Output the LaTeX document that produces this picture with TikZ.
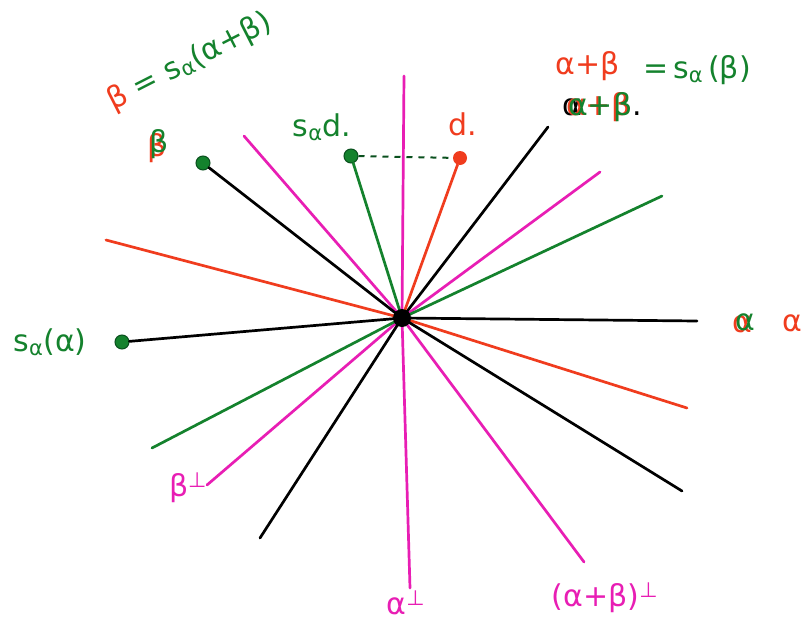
\documentclass[tikz,border=0pt]{standalone}
\usepackage{fontspec}
\setmainfont{DejaVu Sans}
\definecolor{mag}{RGB}{232,30,180}
\definecolor{rd}{RGB}{240,60,30}
\definecolor{gr}{RGB}{20,130,45}
\definecolor{dgr}{RGB}{10,80,30}
\newcommand{\sub}[1]{\textsubscript{#1}}
\newcommand{\sups}[1]{\textsuperscript{#1}}
\begin{document}
\begin{tikzpicture}[x=1pt,y=-1pt,
  ln/.style={line width=2.7pt,line cap=round},
  dotg/.style={circle,fill=gr,draw=dgr,line width=1pt,inner sep=0pt,minimum size=14pt},
  dotr/.style={circle,fill=rd,inner sep=0pt,minimum size=14pt},
  lab/.style={inner sep=1pt,font=\fontsize{30}{32}\selectfont}]
\fill[white] (0,0) rectangle (807,632);
\useasboundingbox (0,0) rectangle (807,632);
% center
\coordinate (C) at (402,318);
% endpoints
\coordinate (m1a) at (404,76);  \coordinate (m1b) at (410,588);
\coordinate (m2a) at (244,136); \coordinate (m2b) at (584,562);
\coordinate (m3a) at (600,172); \coordinate (m3b) at (207,485);
\coordinate (k1b) at (682,491);
\coordinate (k2b) at (697,321);
\coordinate (k3a) at (548,127); \coordinate (k3b) at (260,538);
\coordinate (r2a) at (106,240); \coordinate (r2b) at (687,408);
\coordinate (g2a) at (662,196); \coordinate (g2b) at (152,448);
% dots
\node[dotg] (bdot) at (203,163) {};
\node[dotg] (sadot) at (122,342) {};
\node[dotg] (sddot) at (351,156) {};
\node[dotr] (ddot) at (460,158) {};
% lines
\draw[ln,mag] (m1a) -- (C) -- (m1b);
\draw[ln,mag] (m2a) -- (C) -- (m2b);
\draw[ln,mag] (m3a) -- (C) -- (m3b);
\draw[ln,rd] (r2a) -- (C) -- (r2b);
\draw[ln,gr] (g2a) -- (C) -- (g2b);
\draw[ln,black] (bdot) -- (C) -- (k1b);
\draw[ln,black] (sadot) -- (C) -- (k2b);
\draw[ln,black] (k3a) -- (C) -- (k3b);
\draw[ln,rd] (ddot) -- (C);
\draw[ln,gr] (sddot) -- (C);
\draw[line width=2pt,dgr,dashed,dash pattern=on 6pt off 6pt] (sddot) -- (ddot);
\node[circle,fill=black,inner sep=0pt,minimum size=18pt] (Cdot) at (C) {};
% labels
\node[lab,text=gr,rotate=27] (lb2) at (190,62) {{\color{rd}β} = s\sub{α}(α+β)};
\node[lab] (lb3) at (158,146) {\rlap{\color{rd}\raisebox{-4pt}{β}}\hspace{2pt}{\color{gr}β}};
\node[lab,text=gr] (lsd) at (322,127) {s\sub{α}d.};
\node[lab,text=rd] (ld) at (463,124) {d.};
\node[lab,text=rd] (lab1) at (588,66) {α+β};
\node[lab,text=gr] (lab2) at (697,70) {=\,s\sub{α}\,(β)};
\node[lab] (sc) at (602,107) {\rlap{\color{black}α}\rlap{\color{rd}\hspace{4pt}α+β}\hspace{6pt}{\color{gr}α+β}{\color{black}.}};
\node[lab,text=gr] (lsa) at (50,342) {s\sub{α}(α)};
\node[lab] (la1) at (744,323) {\rlap{\color{rd}\raisebox{-2pt}{α}}\hspace{3pt}{\color{gr}α}};
\node[lab,text=rd] (la2) at (792,323) {α};
\node[lab,text=mag] (lbp) at (188,488) {β\sups{⊥}};
\node[lab,text=mag] (lap) at (406,603) {α\sups{⊥}};
\node[lab,text=mag] (labp) at (605,598) {(α+β)\sups{⊥}};
\end{tikzpicture}
\end{document}
